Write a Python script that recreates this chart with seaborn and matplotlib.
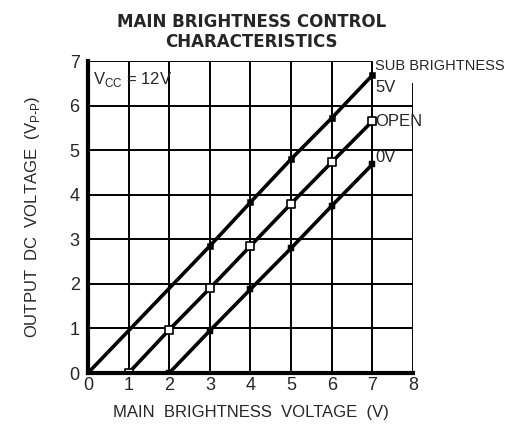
import numpy as np
import pandas as pd
import matplotlib
matplotlib.use("Agg")
import matplotlib.pyplot as plt
import seaborn as sns

# values
x_5v = [0, 1, 2, 3, 4, 5, 6, 7]
y_5v = [0.0, 0.95, 1.9, 2.85, 3.83, 4.8, 5.72, 6.68]
x_open = [1, 2, 3, 4, 5, 6, 7]
y_open = [0.0, 0.97, 1.9, 2.85, 3.8, 4.73, 5.65]
x_0v = [2, 3, 4, 5, 6, 7]
y_0v = [0.0, 0.95, 1.88, 2.8, 3.75, 4.68]

# which points carry a visible marker on the 5V curve
marked_5v = [0, 3, 4, 5, 6, 7]

x_ticks = [0, 1, 2, 3, 4, 5, 6, 7, 8]
y_ticks = [0, 1, 2, 3, 4, 5, 6, 7]

sns.set_theme(style="white")
plt.rcParams["font.family"] = ["Liberation Sans", "DejaVu Sans"]

fig = plt.figure(figsize=(5.13, 4.38), dpi=100)
ax = fig.add_axes([0.1715, 0.1484, 0.805 - 0.1715, 0.8607 - 0.1484])

# grid drawn by hand because the frame is open at the top right
for yv in y_ticks[1:]:
    ax.hlines(yv, 0, 7 if yv == 7 else 8, color="black", lw=1.4, zorder=1)
for xv in x_ticks[1:]:
    ax.vlines(xv, 0, 6.5 if xv == 8 else 7, color="black", lw=1.4, zorder=1)

df5 = pd.DataFrame({"x": x_5v, "y": y_5v})
dfo = pd.DataFrame({"x": x_open, "y": y_open})
df0 = pd.DataFrame({"x": x_0v, "y": y_0v})

for d in (df5, dfo, df0):
    sns.lineplot(data=d, x="x", y="y", ax=ax, color="black", lw=2.6, zorder=3)

sns.scatterplot(data=df5[df5["x"].isin(marked_5v)], x="x", y="y", ax=ax,
                marker="s", s=22, color="black", edgecolor="black", zorder=4)
sns.scatterplot(data=dfo, x="x", y="y", ax=ax, marker="s", s=38,
                facecolor="white", edgecolor="black", linewidth=1.2, zorder=4)
sns.scatterplot(data=df0, x="x", y="y", ax=ax, marker="s", s=18,
                color="black", edgecolor="black", zorder=4)

ax.set_xlim(0, 8)
ax.set_ylim(0, 7)
ax.set_xticks(x_ticks)
ax.set_yticks(y_ticks)
ax.tick_params(axis="y", labelsize=13, length=0, pad=6)
ax.tick_params(axis="x", labelsize=13, length=0, pad=3)
for s in ("top", "right"):
    ax.spines[s].set_visible(False)
for s in ("left", "bottom"):
    ax.spines[s].set_color("black")
    ax.spines[s].set_linewidth(3)
    ax.spines[s].set_zorder(5)

ax.set_xlabel("MAIN  BRIGHTNESS  VOLTAGE  (V)", fontsize=12, labelpad=8)
ax.set_ylabel(r"OUTPUT  DC  VOLTAGE  (V$_{\mathregular{P\text{-}P}}$)", fontsize=12, labelpad=20)

fig.text(0.49, 0.97, "MAIN BRIGHTNESS CONTROL\nCHARACTERISTICS", ha="center", va="top",
         fontsize=12, fontweight="heavy", family="DejaVu Sans", linespacing=1.1)

ax.text(0.12, 6.8, r"V$_{\mathregular{CC}}$ = 12V", fontsize=12, va="top", ha="left")

ax.text(7.06, 6.88, "SUB BRIGHTNESS", fontsize=10.5, va="center", ha="left", clip_on=False)
ax.text(7.08, 6.4, "5V", fontsize=12, va="center", ha="left", clip_on=False)
ax.text(7.08, 5.65, "OPEN", fontsize=12, va="center", ha="left", clip_on=False)
ax.text(7.08, 4.84, "0V", fontsize=12, va="center", ha="left", clip_on=False)

ax.set_facecolor("white")
fig.savefig("out.png", dpi=100, facecolor="white")
